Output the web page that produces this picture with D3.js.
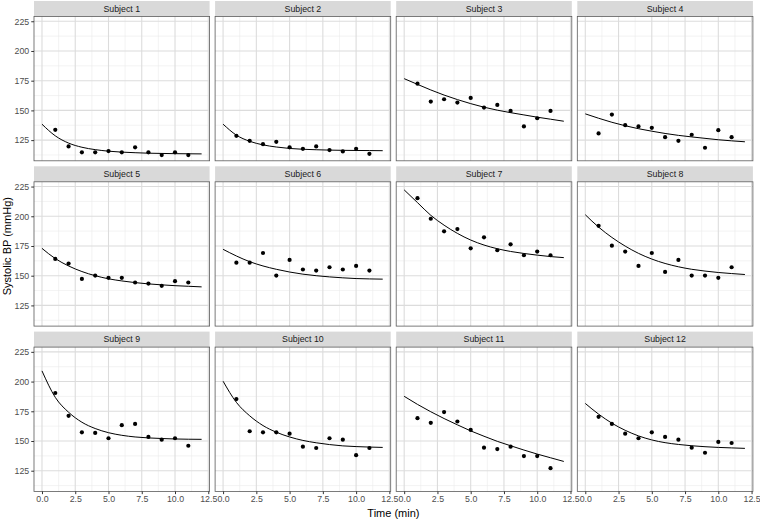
<!DOCTYPE html>
<html>
<head>
<meta charset="utf-8">
<script src="https://cdn.jsdelivr.net/npm/d3@7"></script>
<style>
  html, body { margin: 0; padding: 0; background: #fff; }
  svg { display: block; font-family: "Liberation Sans", Arial, Helvetica, sans-serif; }
</style>
</head>
<body>
<svg id="chart" width="760" height="519"></svg>
<script>
// ---------------- data ----------------
const subjects = ["Subject 1","Subject 2","Subject 3","Subject 4","Subject 5","Subject 6",
                  "Subject 7","Subject 8","Subject 9","Subject 10","Subject 11","Subject 12"];
const obsTimes = [1,2,3,4,5,6,7,8,9,10,11];
const fitTimes = [0,1,2,3,4,5,6,7,8,9,10,11,12];

const obs1  = [133.7,119.7,114.7,114.7,115.8,114.7,118.9,114.7,112.4,114.7,112.4];
const obs2  = [128.6,124.4,121.6,123.6,118.9,117.7,119.7,116.6,115.5,117.7,113.5];
const obs3  = [172.5,157.4,159.4,156.6,160.5,152.4,154.6,149.6,136.5,143.4,149.6];
const obs4  = [130.6,146.5,137.6,136.5,135.3,127.5,124.4,129.5,118.6,133.4,127.5];
const obs5  = [164.1,160.2,147.3,150.1,148.2,148.2,144.3,143.4,141.5,145.4,144.3];
const obs6  = [161.0,161.0,169.1,150.1,163.3,155.2,154.3,157.1,155.2,158.2,154.3];
const obs7  = [215.2,197.9,187.3,189.2,173.0,182.3,171.4,176.4,167.2,170.3,167.2];
const obs8  = [192.0,175.3,170.3,158.2,169.1,153.2,163.3,150.1,150.1,148.2,157.1];
const obs9  = [190.4,171.2,157.3,156.8,152.3,163.3,164.4,153.4,151.1,152.3,146.0];
const obs10 = [185.3,158.2,157.3,157.3,156.2,145.2,144.1,152.3,151.1,138.1,144.1];
const obs11 = [169.2,165.3,174.3,166.4,159.3,144.4,143.2,145.2,137.3,137.3,127.1];
const obs12 = [170.3,164.4,156.2,152.3,157.3,153.4,151.1,144.4,140.1,149.2,148.3];

const fit1  = [138.4,128.6,122.5,119.0,117.0,115.7,114.9,114.4,114.0,113.8,113.6,113.5,113.4];
const fit2  = [138.4,129.2,124.0,121.0,119.2,118.0,117.3,116.9,116.6,116.4,116.3,116.2,116.1];
const fit3  = [176.7,171.9,167.2,162.9,159.1,155.7,152.7,150.2,148.1,146.2,144.3,142.6,140.9];
const fit4  = [147.1,143.4,140.0,137.1,134.6,132.5,130.6,129.0,127.7,126.5,125.3,124.4,123.6];
const fit5  = [173.0,164.4,158.2,153.5,150.0,147.4,145.6,144.2,143.1,142.3,141.6,141.1,140.6];
const fit6  = [172.2,166.6,161.8,158.2,155.4,153.1,151.3,150.0,149.0,148.2,147.6,147.3,147.1];
const fit7  = [222.2,211.5,200.8,192.5,185.6,180.0,175.8,172.7,170.4,168.7,167.3,166.1,165.2];
const fit8  = [201.3,190.9,182.2,174.9,168.8,164.0,160.3,157.5,155.4,153.9,152.7,151.8,151.0];
const fit9  = [209.0,186.7,174.2,165.8,160.5,157.0,154.8,153.4,152.6,152.1,151.7,151.5,151.4];
const fit10 = [200.3,182.5,171.2,163.0,157.4,153.4,150.5,148.5,147.0,145.9,145.3,144.9,144.6];
const fit11 = [187.6,180.8,174.6,168.9,163.6,158.5,154.0,149.7,146.0,142.4,139.0,135.9,132.8];
const fit12 = [181.6,172.6,165.0,159.0,154.3,150.9,148.6,147.1,146.0,145.2,144.6,144.2,143.8];

const observed = [obs1,obs2,obs3,obs4,obs5,obs6,obs7,obs8,obs9,obs10,obs11,obs12];
const fitted   = [fit1,fit2,fit3,fit4,fit5,fit6,fit7,fit8,fit9,fit10,fit11,fit12];

const xMajor = [0, 2.5, 5, 7.5, 10, 12.5];
const xMinor = [1.25, 3.75, 6.25, 8.75, 11.25];
const yMajor = [125, 150, 175, 200, 225];
const yMinor = [112.5, 137.5, 162.5, 187.5, 212.5];
const xLabel = "Time (min)";
const yLabel = "Systolic BP (mmHg)";

// ---------------- layout ----------------
const svg = d3.select("#chart");
const nCols = 4, nRows = 3;
const left0 = 34, top0 = 1;
const panelW = 175.6, gapX = 5.5;
const stripH = 15.5, panelH = 144.3, gapY = 5.5;

const x = d3.scaleLinear().domain([-0.6, 12.6]).range([0, panelW]);
const y = d3.scaleLinear().domain([107.6, 229]).range([panelH, 0]);

const line = d3.line()
  .x(d => x(d[0]))
  .y(d => y(d[1]))
  .curve(d3.curveMonotoneX);

subjects.forEach((name, i) => {
  const c = i % nCols, r = Math.floor(i / nCols);
  const px = left0 + c * (panelW + gapX);
  const sy = top0 + r * (stripH + panelH + gapY);
  const py = sy + stripH;

  // strip
  svg.append("rect")
    .attr("x", px).attr("y", sy).attr("width", panelW).attr("height", stripH)
    .attr("fill", "#d9d9d9");
  svg.append("text")
    .attr("x", px + panelW / 2).attr("y", sy + stripH / 2)
    .attr("dy", "0.35em").attr("text-anchor", "middle")
    .attr("font-size", 8.8).attr("fill", "#1a1a1a")
    .text(name);

  const g = svg.append("g").attr("transform", `translate(${px},${py})`);
  g.append("rect").attr("width", panelW).attr("height", panelH).attr("fill", "#fff");

  // grid
  g.selectAll(".xmin").data(xMinor).enter().append("line")
    .attr("x1", d => x(d)).attr("x2", d => x(d)).attr("y1", 0).attr("y2", panelH)
    .attr("stroke", "#ebebeb").attr("stroke-width", 0.6);
  g.selectAll(".ymin").data(yMinor).enter().append("line")
    .attr("y1", d => y(d)).attr("y2", d => y(d)).attr("x1", 0).attr("x2", panelW)
    .attr("stroke", "#ebebeb").attr("stroke-width", 0.6);
  g.selectAll(".xmaj").data(xMajor).enter().append("line")
    .attr("x1", d => x(d)).attr("x2", d => x(d)).attr("y1", 0).attr("y2", panelH)
    .attr("stroke", "#dcdcdc").attr("stroke-width", 1.1);
  g.selectAll(".ymaj").data(yMajor).enter().append("line")
    .attr("y1", d => y(d)).attr("y2", d => y(d)).attr("x1", 0).attr("x2", panelW)
    .attr("stroke", "#dcdcdc").attr("stroke-width", 1.1);

  // fitted curve
  const pts = fitTimes.map((t, k) => [t, fitted[i][k]]);
  g.append("path").datum(pts).attr("d", line)
    .attr("fill", "none").attr("stroke", "#000").attr("stroke-width", 1);

  // points
  g.selectAll(".pt").data(obsTimes.map((t, k) => [t, observed[i][k]])).enter()
    .append("circle")
    .attr("cx", d => x(d[0])).attr("cy", d => y(d[1])).attr("r", 2.1)
    .attr("fill", "#000");

  // border
  g.append("rect").attr("width", panelW).attr("height", panelH)
    .attr("fill", "none").attr("stroke", "#5a5a5a").attr("stroke-width", 0.8);

  // axes
  if (c === 0) {
    const ya = g.append("g").call(d3.axisLeft(y).tickValues(yMajor).tickSize(2.75).tickPadding(2).tickFormat(d3.format("d")));
    ya.select(".domain").remove();
    ya.selectAll("line").attr("stroke", "#333");
    ya.selectAll("text").attr("font-size", 8.8).attr("fill", "#4d4d4d")
      .attr("font-family", "Liberation Sans, Arial, sans-serif");
  }
  if (r === nRows - 1) {
    const xa = g.append("g").attr("transform", `translate(0,${panelH})`)
      .call(d3.axisBottom(x).tickValues(xMajor).tickSize(2.75).tickPadding(2).tickFormat(d3.format(".1f")));
    xa.select(".domain").remove();
    xa.selectAll("line").attr("stroke", "#333");
    xa.selectAll("text").attr("font-size", 8.8).attr("fill", "#4d4d4d")
      .attr("font-family", "Liberation Sans, Arial, sans-serif");
  }
});

// axis titles
const plotLeft = left0, plotRight = left0 + nCols * panelW + (nCols - 1) * gapX;
const plotTop = top0, plotBottom = top0 + nRows * (stripH + panelH) + (nRows - 1) * gapY;
svg.append("text")
  .attr("x", (plotLeft + plotRight) / 2).attr("y", 517)
  .attr("text-anchor", "middle").attr("font-size", 11).attr("fill", "#000")
  .text(xLabel);
svg.append("text")
  .attr("transform", `translate(11,${(plotTop + plotBottom) / 2}) rotate(-90)`)
  .attr("text-anchor", "middle").attr("font-size", 11).attr("fill", "#000")
  .text(yLabel);
</script>
</body>
</html>
